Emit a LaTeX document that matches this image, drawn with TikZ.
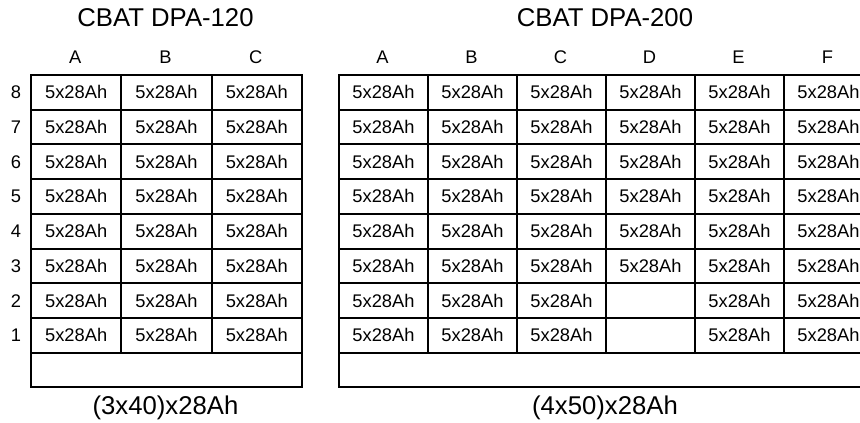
\documentclass[tikz,border=0pt]{standalone}
\usepackage{fontspec}
\setmainfont{Liberation Sans}
\begin{document}
\begin{tikzpicture}[x=1pt,y=-1pt,
  txt/.style={font=\fontsize{18.3}{22}\selectfont, inner sep=0pt},
  titletxt/.style={font=\fontsize{25.7}{30}\selectfont, inner sep=0pt},
  cellL/.style={draw, line width=2pt, minimum width=90.33pt, minimum height=34.7pt, inner sep=0pt, anchor=north west, txt},
  cellR/.style={draw, line width=2pt, minimum width=89pt, minimum height=34.7pt, inner sep=0pt, anchor=north west, txt},
  emptyrow/.style={draw, line width=2pt, minimum height=34.7pt, inner sep=0pt, anchor=north west}
]
\useasboundingbox (0,0) rectangle (860,423);
\node[titletxt] (t1) at (165.5,18) {CBAT DPA-120};
\node[titletxt] (t2) at (605,18) {CBAT DPA-200};
\foreach \c [count=\i from 0] in {A,B,C} {
  \node[txt] (Lh\c) at ({30+90.33*\i+45.17},57) {\c};
}
\foreach \c [count=\i from 0] in {A,B,C,D,E,F} {
  \node[txt] (Rh\c) at ({338+89*\i+44.5},57) {\c};
}
\foreach \r in {1,...,8} {
  \pgfmathsetmacro\yy{74+34.7*(8-\r)}
  \foreach \c [count=\i from 0] in {A,B,C} {
    \node[cellL] (L\c\r) at ({30+90.33*\i},\yy) {5x28Ah};
  }
  \node[txt, anchor=base] (Ln\r) at (16,0 |- LA\r.base) {\r};
  \foreach \c [count=\i from 0] in {A,B,C,D,E,F} {
    \def\celltxt{5x28Ah}
    \ifnum\r<3 \if\c D\def\celltxt{}\fi\fi
    \node[cellR] (R\c\r) at ({338+89*\i},\yy) {\celltxt};
  }
}
\node[emptyrow, minimum width=271pt] (Lempty) at (30,351.6) {};
\node[emptyrow, minimum width=534pt] (Rempty) at (338,351.6) {};
\node[titletxt] (b1) at (165.5,408) {(3x40)x28Ah};
\node[titletxt] (b2) at (605,408) {(4x50)x28Ah};
\end{tikzpicture}
\end{document}
